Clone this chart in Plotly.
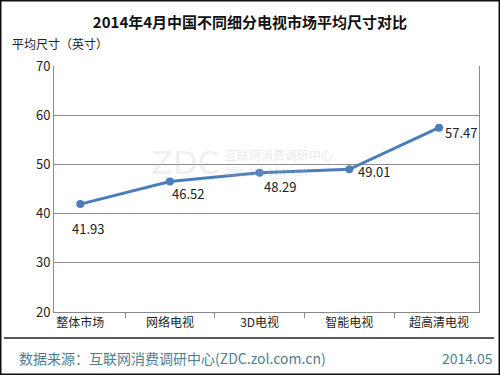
import plotly.graph_objects as go

categories = ["整体市场", "网络电视", "3D电视", "智能电视", "超高清电视"]
values = [41.93, 46.52, 48.29, 49.01, 57.47]
y_ticks = [20, 30, 40, 50, 60, 70]
# label offsets (pixels) relative to the point: right, down
label_dx = [8, 18, 20, 25, 22]
label_dy = [24, 12, 14, 2, 5]

FONT = "Noto Sans CJK SC, Noto Sans, sans-serif"
LINE_COLOR = "#4a7ebb"

fig = go.Figure()
fig.add_trace(go.Scatter(
    x=categories, y=values,
    mode="lines+markers",
    line=dict(color=LINE_COLOR, width=3),
    marker=dict(color=LINE_COLOR, size=8),
    showlegend=False,
))

for c, v, dx, dy in zip(categories, values, label_dx, label_dy):
    fig.add_annotation(x=c, y=v, xref="x", yref="y", text=f"{v:.2f}",
                       showarrow=False, xshift=dx, yshift=-dy,
                       font=dict(family=FONT, size=13, color="#222222"))

fig.update_layout(
    width=500, height=375,
    margin=dict(l=54, r=21, t=66, b=63),
    paper_bgcolor="white", plot_bgcolor="white",
    font=dict(family=FONT, color="#222222"),
    title=dict(text="<b>2014年4月中国不同细分电视市场平均尺寸对比</b>",
               x=0.5, xanchor="center", y=1 - 23 / 375, yanchor="middle",
               font=dict(size=15, color="#111111", family=FONT)),
)
fig.update_xaxes(
    type="category", tickson="boundaries", ticks="outside", ticklen=5,
    tickcolor="#888888", showline=True, linecolor="#888888", linewidth=1,
    showgrid=False, tickfont=dict(size=12, family=FONT, color="#222222"),
    mirror=False,
)
fig.update_yaxes(
    range=[20, 70], tickvals=y_ticks, showgrid=True, gridcolor="#8c8c8c",
    gridwidth=1, showline=True, linecolor="#8c8c8c", linewidth=1, mirror=True,
    ticks="", tickfont=dict(size=13, family=FONT, color="#222222"), zeroline=False,
)

# y-axis title
fig.add_annotation(text="平均尺寸（英寸）", xref="paper", yref="paper",
                   x=(10 - 54) / 425, y=(312 - 43) / 246, xanchor="left", yanchor="middle",
                   showarrow=False, font=dict(size=12, family=FONT, color="#222222"))

# watermark
fig.add_annotation(text="ZDC", xref="paper", yref="paper",
                   x=(222 - 54) / 425, y=(312 - 163) / 246, xanchor="right", yanchor="middle",
                   showarrow=False, font=dict(size=32, family="DejaVu Sans", color="rgba(200,200,200,0.3)"))
fig.add_annotation(text="互联网消费调研中心<br>zdc.zol.com.cn", xref="paper", yref="paper",
                   x=(223 - 54) / 425, y=(312 - 162) / 246, xanchor="left", yanchor="middle",
                   align="left", showarrow=False,
                   font=dict(size=12, family=FONT, color="rgba(190,190,190,0.35)"))

# footer
fig.add_annotation(text="数据来源：互联网消费调研中心(ZDC.zol.com.cn)", xref="paper", yref="paper",
                   x=(17 - 54) / 425, y=(312 - 358) / 246, xanchor="left", yanchor="middle",
                   showarrow=False, font=dict(size=14, family=FONT, color="#4f7f8f"))
fig.add_annotation(text="2014.05", xref="paper", yref="paper",
                   x=(495 - 54) / 425, y=(312 - 358) / 246, xanchor="right", yanchor="middle",
                   showarrow=False, font=dict(size=14, family=FONT, color="#4f7f8f"))

# separator line
fig.add_shape(type="line", xref="paper", yref="paper",
              x0=(4 - 54) / 425, x1=(494 - 54) / 425,
              y0=(312 - 338) / 246, y1=(312 - 338) / 246,
              line=dict(color="#222222", width=1.5))
# outer border
fig.add_shape(type="rect", xref="paper", yref="paper",
              x0=(0.75 - 54) / 425, x1=(499.25 - 54) / 425,
              y0=(312 - 374.25) / 246, y1=(312 - 0.75) / 246,
              line=dict(color="#111111", width=1.5))

fig.write_html("out.html", config={"displayModeBar": False},
               post_script="document.body.style.margin='0';")
